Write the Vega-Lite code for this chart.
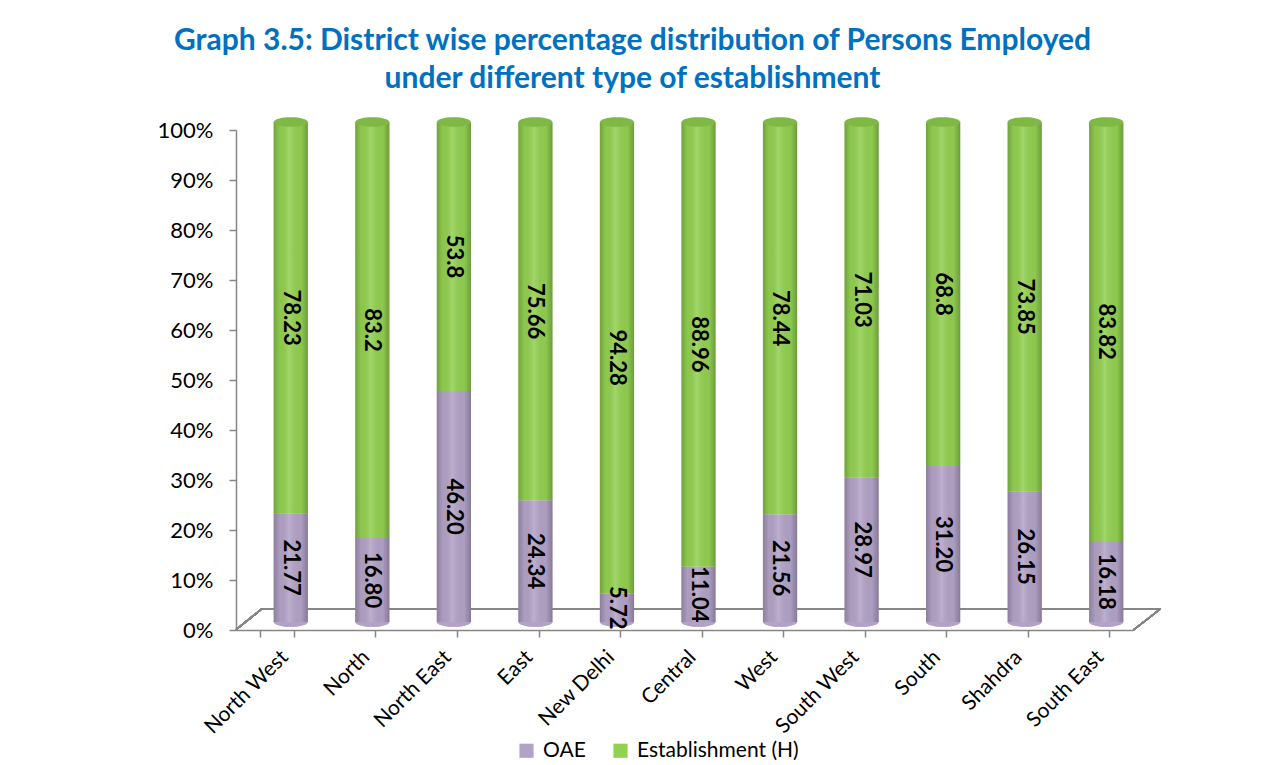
{
  "$schema": "https://vega.github.io/schema/vega-lite/v6.json",
  "width": 897,
  "height": 500,
  "autosize": {"type": "none"},
  "padding": {"left": 236, "top": 130, "right": 146, "bottom": 135},
  "background": "white",
  "config": {"font": "Lato", "view": {"stroke": null}},
  "title": {
    "text": ["Graph 3.5: District wise  percentage distribution of Persons Employed", "under different type of establishment"],
    "color": "#0070C0", "font": "Lato", "fontWeight": "bold", "fontSize": 30,
    "anchor": "middle", "dx": -52, "offset": 23, "lineHeight": 38
  },
  "data": {"values": [
    {"district": "North West", "type": "OAE", "value": 21.77, "label": "21.77"},
    {"district": "North West", "type": "Establishment (H)", "value": 78.23, "label": "78.23"},
    {"district": "North", "type": "OAE", "value": 16.80, "label": "16.80"},
    {"district": "North", "type": "Establishment (H)", "value": 83.2, "label": "83.2"},
    {"district": "North East", "type": "OAE", "value": 46.20, "label": "46.20"},
    {"district": "North East", "type": "Establishment (H)", "value": 53.8, "label": "53.8"},
    {"district": "East", "type": "OAE", "value": 24.34, "label": "24.34"},
    {"district": "East", "type": "Establishment (H)", "value": 75.66, "label": "75.66"},
    {"district": "New Delhi", "type": "OAE", "value": 5.72, "label": "5.72"},
    {"district": "New Delhi", "type": "Establishment (H)", "value": 94.28, "label": "94.28"},
    {"district": "Central", "type": "OAE", "value": 11.04, "label": "11.04"},
    {"district": "Central", "type": "Establishment (H)", "value": 88.96, "label": "88.96"},
    {"district": "West", "type": "OAE", "value": 21.56, "label": "21.56"},
    {"district": "West", "type": "Establishment (H)", "value": 78.44, "label": "78.44"},
    {"district": "South West", "type": "OAE", "value": 28.97, "label": "28.97"},
    {"district": "South West", "type": "Establishment (H)", "value": 71.03, "label": "71.03"},
    {"district": "South", "type": "OAE", "value": 31.20, "label": "31.20"},
    {"district": "South", "type": "Establishment (H)", "value": 68.8, "label": "68.8"},
    {"district": "Shahdra", "type": "OAE", "value": 26.15, "label": "26.15"},
    {"district": "Shahdra", "type": "Establishment (H)", "value": 73.85, "label": "73.85"},
    {"district": "South East", "type": "OAE", "value": 16.18, "label": "16.18"},
    {"district": "South East", "type": "Establishment (H)", "value": 83.82, "label": "83.82"}
  ]},
  "transform": [
    {"stack": "value", "groupby": ["district"], "sort": [{"field": "type", "order": "descending"}], "as": ["y0", "y1"]}
  ],
  "layer": [
    {
      "transform": [{"filter": "datum.type == 'OAE'"}],
      "mark": {"type": "point", "filled": true, "opacity": 1, "size": 1156, "color": "#B3A2C7",
        "shape": "M-1,0 A1,0.28 0 1,1 1,0 A1,0.28 0 1,1 -1,0 Z", "xOffset": 14, "yOffset": -8},
      "encoding": {
        "x": {
          "field": "district", "type": "nominal", "sort": null,
          "scale": {"paddingInner": 0.58, "paddingOuter": 0.29},
          "axis": {
            "title": null, "labelAngle": -45, "labelFontSize": 21, "labelColor": "#000000",
            "tickBand": "extent", "tickSize": 7, "domainColor": "#868686", "tickColor": "#868686",
            "domainWidth": 1.5, "tickWidth": 1.5, "labelPadding": 9
          }
        },
        "y": {
          "field": "y0", "type": "quantitative", "scale": {"domain": [0, 100]},
          "axis": {
            "title": null, "values": [0, 10, 20, 30, 40, 50, 60, 70, 80, 90, 100],
            "labelExpr": "datum.value + '%'", "grid": false,
            "domainColor": "#868686", "tickColor": "#868686", "domainWidth": 1.5, "tickWidth": 1.5,
            "tickSize": 7, "labelFontSize": 22, "labelColor": "#000000", "labelPadding": 16
          }
        }
      }
    },
    {
      "mark": {"type": "rule", "color": "#868686", "strokeWidth": 1.5, "xOffset": 2, "x2Offset": 51},
      "encoding": {
        "x": {"datum": "North West", "type": "nominal", "bandPosition": 0},
        "x2": {"datum": "South East", "bandPosition": 1},
        "y": {"datum": 4.2, "type": "quantitative"}
      }
    },
    {
      "mark": {"type": "rule", "color": "#868686", "strokeWidth": 1.5, "xOffset": -24, "x2Offset": 2},
      "encoding": {
        "x": {"datum": "North West", "type": "nominal", "bandPosition": 0},
        "x2": {"datum": "North West", "bandPosition": 0},
        "y": {"datum": 0, "type": "quantitative"},
        "y2": {"datum": 4.2}
      }
    },
    {
      "mark": {"type": "rule", "color": "#868686", "strokeWidth": 1.5, "xOffset": 24, "x2Offset": 51},
      "encoding": {
        "x": {"datum": "South East", "type": "nominal", "bandPosition": 1},
        "x2": {"datum": "South East", "bandPosition": 1},
        "y": {"datum": 0, "type": "quantitative"},
        "y2": {"datum": 4.2}
      }
    },
    {
      "transform": [{"filter": "datum.type == 'OAE'"}],
      "mark": {"type": "point", "filled": true, "opacity": 1, "size": 1156, "color": "#B3A2C7",
        "shape": "M-1,0 A1,0.28 0 1,1 1,0 A1,0.28 0 1,1 -1,0 Z", "xOffset": 14, "yOffset": -8},
      "encoding": {
        "x": {"field": "district", "type": "nominal", "sort": null},
        "y": {"field": "y0", "type": "quantitative"}
      }
    },
    {
      "mark": {"type": "bar", "xOffset": 14, "yOffset": -8, "y2Offset": -8},
      "encoding": {
        "x": {"field": "district", "type": "nominal", "sort": null},
        "y": {"field": "y0", "type": "quantitative"},
        "y2": {"field": "y1"},
        "color": {
          "field": "type", "type": "nominal",
          "scale": {"domain": ["OAE", "Establishment (H)"], "range": ["#B3A2C7", "#92D050"]},
          "legend": {
            "orient": "none", "legendX": 280, "legendY": 610, "direction": "horizontal", "title": null,
            "symbolType": "square", "symbolSize": 200, "labelFontSize": 21, "labelColor": "#000000",
            "columnPadding": 24, "labelOffset": 6, "labelLimit": 400
          }
        }
      }
    },
    {
      "mark": {"type": "bar", "xOffset": 14, "yOffset": -8, "y2Offset": -8,
        "fill": {"gradient": "linear", "x1": 0, "x2": 1, "y1": 0, "y2": 0, "stops": [
          {"offset": 0, "color": "rgba(0,0,0,0.22)"},
          {"offset": 0.18, "color": "rgba(0,0,0,0.04)"},
          {"offset": 0.45, "color": "rgba(255,255,255,0.14)"},
          {"offset": 0.8, "color": "rgba(0,0,0,0.03)"},
          {"offset": 1, "color": "rgba(0,0,0,0.25)"}
        ]}},
      "encoding": {
        "x": {"field": "district", "type": "nominal", "sort": null},
        "y": {"field": "y0", "type": "quantitative"},
        "y2": {"field": "y1"}
      }
    },
    {
      "transform": [{"filter": "datum.type == 'Establishment (H)'"}],
      "mark": {"type": "point", "filled": true, "opacity": 1, "size": 1156, "color": "#80B846",
        "shape": "M-1,0 A1,0.28 0 1,1 1,0 A1,0.28 0 1,1 -1,0 Z", "xOffset": 14, "yOffset": -8},
      "encoding": {
        "x": {"field": "district", "type": "nominal", "sort": null},
        "y": {"field": "y1", "type": "quantitative"}
      }
    },
    {
      "transform": [
        {"fold": ["y0", "y1"], "as": ["k", "v"]},
        {"aggregate": [{"op": "mean", "field": "v", "as": "mid"}], "groupby": ["district", "type", "label"]}
      ],
      "mark": {"type": "text", "angle": 90, "fontWeight": "bold", "fontSize": 22, "color": "#000000",
        "align": "center", "baseline": "middle", "xOffset": 14, "yOffset": -8},
      "encoding": {
        "x": {"field": "district", "type": "nominal", "sort": null},
        "y": {"field": "mid", "type": "quantitative"},
        "text": {"field": "label"}
      }
    }
  ]
}
